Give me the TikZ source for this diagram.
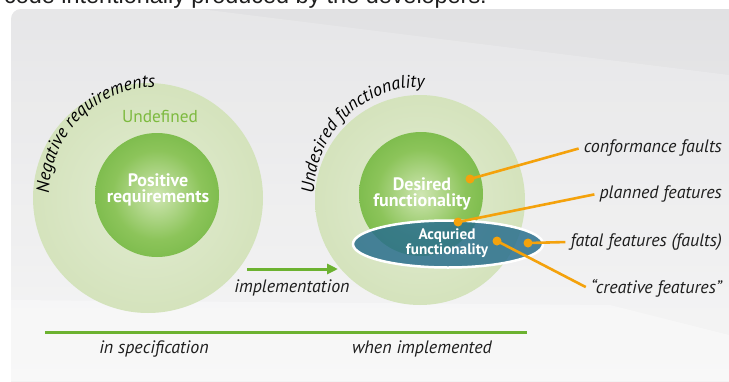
\documentclass[tikz,border=0pt]{standalone}
\usepackage{fontspec}
\setmainfont{PT Sans}
\newfontfamily\toplinefont{Liberation Sans}
\usepackage{xcolor}
\usetikzlibrary{arrows.meta,shapes.geometric,decorations.text}
\definecolor{leafgreen}{HTML}{6CB230}
\definecolor{undefgreen}{HTML}{7DBA3F}
\definecolor{ballhi}{HTML}{CFE6B2}
\definecolor{ballmid}{HTML}{8CC45A}
\definecolor{balllo}{HTML}{60AC33}
\definecolor{halohi}{HTML}{E2ECD2}
\definecolor{halolo}{HTML}{CCDDAF}
\definecolor{acqblue}{HTML}{2A6F8E}
\definecolor{leadorange}{HTML}{F4A20C}
\definecolor{panelgray}{HTML}{E1E1E3}
\definecolor{panellight}{HTML}{F5F5F5}
\definecolor{inkgray}{HTML}{1E1E1E}
\pgfdeclareradialshading{ballgreen}{\pgfpointorigin}{color(0bp)=(ballhi); color(18bp)=(ballmid); color(42bp)=(balllo); color(50bp)=(balllo)}
\pgfdeclareradialshading{halogreen}{\pgfpointorigin}{color(0bp)=(halohi); color(40bp)=(halolo); color(47bp)=(halolo); color(50bp)=(halohi)}

\begin{document}
\begin{tikzpicture}[x=1pt,y=-1pt, font=\fontsize{18}{20}\selectfont,
 halo/.style={circle,inner sep=0pt,shading=halogreen},
 ball/.style={circle,inner sep=0pt,shading=ballgreen,minimum size=124pt},
 balltext/.style={align=center,text=white,font=\fontsize{18}{16.5}\selectfont\bfseries},
 note/.style={font=\fontsize{18}{20}\selectfont\itshape,text=inkgray,inner sep=3pt},
 dot/.style={circle,fill=leadorange,inner sep=0pt,minimum size=9pt},
 lead/.style={draw=leadorange,line width=2.6pt,shorten >=2pt},
 growth/.style={-{Triangle[length=11pt,width=10pt]},line width=3pt,draw=leafgreen},
 arcnote/.style={decorate,decoration={text along path,text align=center,raise=1pt}}]
\useasboundingbox (0,0) rectangle (729,381);
\shade[top color=panelgray,bottom color=panellight,rounded corners=10pt] (11,9) rectangle (760,420);
\begin{scope}
\clip[rounded corners=10pt] (11,9) rectangle (760,420);
\fill[white,opacity=0.2] (11,9) -- (200,9) -- (729,75) -- (729,381) -- (11,381) -- cycle;
\fill[white,opacity=0.35] (11,300) -- (610,305) -- (729,335) -- (729,381) -- (11,381) -- cycle;
\end{scope}
\node[anchor=base west,inner sep=0pt,text=inkgray,font=\toplinefont\fontsize{23.4}{28}\selectfont] (caption) at (4,3) {code intentionally produced by the developers.};

\node[halo,minimum size=230pt] (negring) at (148,198) {};
\node[ball] (posreq) at (157,195) {};
\node[balltext] (postxt) at (158,190) {Positive\\requirements};
\node[text=undefgreen,font=\fontsize{17.3}{19}\selectfont] (undef) at (160,116) {Undefined};
\path[arcnote,decoration={text={|\fontsize{18}{20}\selectfont\itshape|Negative requirements}}] (posreq.center) ++(180:107) arc[start angle=180,end angle=270,radius=107];

\node[halo,minimum size=210pt] (undring) at (420,200) {};
\node[ball] (desfun) at (421,194) {};
\node[balltext] (destxt) at (422,194) {Desired\\functionality};
\path[arcnote,decoration={text={|\fontsize{18}{20}\selectfont\itshape|Undesired functionality}}] (desfun.center) ++(178:106) arc[start angle=178,end angle=274,radius=106];
\node[ellipse,inner sep=0pt,minimum width=190pt,minimum height=47pt,fill=acqblue,fill opacity=0.85,draw=white,line width=2.5pt] (acqfun) at (448,244) {};
\node[balltext,font=\fontsize{15.2}{15}\selectfont\bfseries] (acqtxt) at (447,243.5) {Acquried\\functionality};

\coordinate (implfrom) at (247,269); \coordinate (implto) at (338,269);
\draw[growth] (implfrom) -- (implto);
\node[note] (impl) at (292,288) {implementation};
\coordinate (specL) at (45,332); \coordinate (specR) at (527,332);
\draw[line width=3pt,draw=leafgreen] (specL) -- (specR);
\node[note] (inspec) at (154,349) {in specification};
\node[note] (whenimpl) at (422,349) {when implemented};

\node[note,anchor=east] (conffault) at (725,148) {conformance faults};
\node[note,anchor=east] (planfeat) at (725,194) {planned features};
\node[note,anchor=east] (fatalfeat) at (725,242) {fatal features (faults)};
\node[note,anchor=east] (creafeat) at (725,288) {“creative features”};
\node[dot] (confdot) at (470,179) {};
\node[dot] (plandot) at (458,222) {};
\node[dot] (fataldot) at (528,243) {};
\node[dot] (creadot) at (497,241) {};
\draw[lead] (confdot.center) -- (conffault.west);
\draw[lead] (plandot.center) -- (planfeat.west);
\draw[lead] (fataldot.center) -- (fatalfeat.west);
\draw[lead] (creadot.center) -- (creafeat.west);
\end{tikzpicture}
\end{document}
